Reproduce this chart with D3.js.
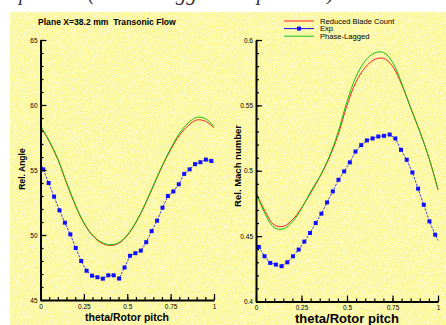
<!DOCTYPE html>
<html>
<head>
<meta charset="utf-8">
<script src="https://cdn.jsdelivr.net/npm/d3@7"></script>
<style>
  body { margin: 0; background: #fff; }
  svg { display: block; font-family: Arial, "Liberation Sans", sans-serif; }
</style>
</head>
<body>
<svg id="chart" width="446" height="325"></svg>
<script>
// curve stations (theta / rotor pitch)
const theta = [0, 0.05, 0.1, 0.15, 0.2, 0.25, 0.3, 0.35, 0.4, 0.45, 0.5,
  0.55, 0.6, 0.65, 0.7, 0.75, 0.8, 0.85, 0.9, 0.95, 1.0];

// relative angle
const angleReduced = [58.35, 57.2, 55.8, 54.0, 52.3, 50.9, 49.95, 49.4, 49.2, 49.35, 49.95,
  50.95, 52.25, 53.75, 55.25, 56.55, 57.65, 58.4, 58.85, 58.75, 58.25];
const anglePhase = [58.4, 57.25, 55.85, 54.05, 52.35, 50.95, 50.0, 49.45, 49.25, 49.4, 50.0,
  51.0, 52.3, 53.8, 55.3, 56.65, 57.8, 58.6, 59.05, 58.95, 58.35];

// relative mach number
const machReduced = [0.4835, 0.469, 0.4585, 0.4575, 0.4625, 0.4715, 0.483, 0.495, 0.509, 0.527, 0.550,
  0.568, 0.579, 0.585, 0.586, 0.580, 0.566, 0.548, 0.530, 0.510, 0.4855];
const machPhase = [0.4835, 0.467, 0.4565, 0.4555, 0.461, 0.471, 0.484, 0.4955, 0.510, 0.529, 0.553,
  0.572, 0.584, 0.590, 0.5905, 0.583, 0.567, 0.548, 0.530, 0.510, 0.4855];

// experiment: 32 probe positions across the pitch
const expTheta = d3.range(32).map(i => (i + 0.5) / 32);
const expAngle = [55.05, 54.0, 52.95, 51.9, 50.95, 50.05, 49.0, 48.0, 47.25, 46.87, 46.75,
  46.64, 46.9, 46.9, 46.65, 47.5, 48.4, 48.6, 48.8, 49.45, 50.3, 51.1, 52.1, 53.0, 53.35,
  53.9, 54.7, 55.05, 55.45, 55.6, 55.8, 55.7];
const expMach = [0.4417, 0.4346, 0.4295, 0.4282, 0.427, 0.430, 0.4346, 0.4397, 0.4458, 0.4524,
  0.460, 0.4672, 0.4758, 0.4842, 0.4931, 0.4995, 0.5064, 0.5147, 0.5196, 0.5232, 0.5247,
  0.5262, 0.5267, 0.5277, 0.5247, 0.516, 0.5084, 0.4987, 0.4863, 0.474, 0.4613, 0.4511];
// values at the pitch edges where the exp line is carried on
const expAngleEnds = [55.55, 55.55];
const expMachEnds = [0.4443, 0.4467];

const xTicks = [0, 0.25, 0.5, 0.75, 1];
const xTickLabels = ["0", "0.25", "0.5", "0.75", "1"];
const angleTicks = [45, 50, 55, 60, 65];
const angleTickLabels = ["45", "50", "55", "60", "65"];
const machTicks = [0.4, 0.45, 0.5, 0.55, 0.6];
const machTickLabels = ["0.4", "0.45", "0.5", "0.55", "0.6"];

const legendItems = ["Reduced Blade Count", "Exp", "Phase-Lagged"];
const colors = { reduced: "#ff2020", exp: "#1010ff", phase: "#10c010" };

const svg = d3.select("#chart");

// paper-like yellow background
const defs = svg.append("defs");
const f = defs.append("filter").attr("id", "paper").attr("x", 0).attr("y", 0).attr("width", 1).attr("height", 1);
f.append("feTurbulence").attr("type", "fractalNoise").attr("baseFrequency", "0.9 2.2").attr("numOctaves", 1).attr("seed", 3).attr("result", "n");
f.append("feColorMatrix").attr("in", "n").attr("type", "matrix")
  .attr("values", "0 0 0 0 1  0 0 0 0 1  0 0 0 0 1  0 0 0 -2.4 1.5");
svg.append("rect").attr("x", 10).attr("y", 12).attr("width", 436).attr("height", 313).attr("fill", "#faf68a");
svg.append("rect").attr("x", 10).attr("y", 12).attr("width", 436).attr("height", 313).attr("fill", "#fff").attr("filter", "url(#paper)").attr("opacity", 0.85);

// caption cut off at the top
svg.append("text").attr("x", 80).attr("y", 0).attr("text-anchor", "end")
  .attr("font-family", "Liberation Serif, serif").attr("font-style", "italic").attr("font-size", 20)
  .attr("fill", "#333").text("Comparison");
svg.append("text").attr("x", 88).attr("y", 0)
  .attr("font-family", "Liberation Serif, serif").attr("font-style", "italic").attr("font-size", 20)
  .attr("textLength", 246).attr("lengthAdjust", "spacingAndGlyphs")
  .attr("fill", "#333").text("(Phase-Lagged computation)");

svg.append("text").attr("x", 38).attr("y", 25).attr("font-size", 8.6).attr("font-weight", "bold")
  .attr("xml:space", "preserve").style("white-space", "pre")
  .text("Plane X=38.2 mm  Transonic Flow");

function panel(opts) {
  const x = d3.scaleLinear().domain([0, 1]).range(opts.xr);
  const y = d3.scaleLinear().domain(opts.yd).range(opts.yr);
  const g = svg.append("g");

  const line = d3.line().x(d => x(d[0])).y(d => y(d[1])).curve(d3.curveCatmullRom.alpha(0.5));
  g.append("path").datum(theta.map((t, i) => [t, opts.reduced[i]]))
    .attr("d", line).attr("fill", "none").attr("stroke", colors.reduced).attr("stroke-width", 1);
  g.append("path").datum(theta.map((t, i) => [t, opts.phase[i]]))
    .attr("d", line).attr("fill", "none").attr("stroke", colors.phase).attr("stroke-width", 1);

  const expPts = [[0, opts.expEnds[0]], ...expTheta.map((t, i) => [t, opts.exp[i]]), [1, opts.expEnds[1]]];
  g.append("path").datum(expPts)
    .attr("d", d3.line().x(d => x(d[0])).y(d => y(d[1])))
    .attr("fill", "none").attr("stroke", colors.exp).attr("stroke-width", 0.8).attr("stroke-dasharray", "2.5,1.2");
  g.selectAll("rect.m").data(expTheta.map((t, i) => [t, opts.exp[i]])).enter().append("rect")
    .attr("x", d => x(d[0]) - 2).attr("y", d => y(d[1]) - 2)
    .attr("width", 4).attr("height", 4).attr("fill", colors.exp);

  // axes, ticks pointing inward
  g.append("g").attr("transform", `translate(${opts.xr[0]},0)`)
    .call(d3.axisLeft(y).tickValues(opts.yTicks).tickFormat((d, i) => opts.yLabels[i])
      .tickSize(-6).tickSizeOuter(0).tickPadding(3));
  g.append("g").attr("transform", `translate(${opts.xr[0]},0)`)
    .call(d3.axisLeft(y).tickValues(opts.yMinor).tickFormat("").tickSize(-3).tickSizeOuter(0))
    .select(".domain").remove();
  g.append("g").attr("transform", `translate(0,${opts.yr[0]})`)
    .call(d3.axisBottom(x).tickValues(xTicks).tickFormat((d, i) => xTickLabels[i])
      .tickSize(-6).tickSizeOuter(0).tickPadding(4));
  g.append("g").attr("transform", `translate(0,${opts.yr[0]})`)
    .call(d3.axisBottom(x).tickValues(d3.range(0, 1.0001, 0.05)).tickFormat("").tickSize(-3).tickSizeOuter(0))
    .select(".domain").remove();
  g.selectAll(".domain").attr("stroke-width", 2);
  g.selectAll(".tick line").attr("stroke-width", 1.2);
  g.selectAll(".tick text").attr("font-size", 6.5).attr("font-family", "Arial, Liberation Sans, sans-serif");

  g.append("text").attr("transform", `translate(${opts.ylx},${opts.yly}) rotate(-90)`)
    .attr("text-anchor", "middle").attr("font-size", opts.ylSize).attr("font-weight", "bold").text(opts.yLabel);
  g.append("text").attr("x", opts.xlx).attr("y", opts.xly).attr("text-anchor", "middle")
    .attr("font-size", opts.xlSize).attr("font-weight", "bold").text("theta/Rotor pitch");
}

panel({
  xr: [40.5, 214], yd: [45, 65], yr: [300, 40],
  reduced: angleReduced, phase: anglePhase, exp: expAngle, expEnds: expAngleEnds,
  yTicks: angleTicks, yLabels: angleTickLabels, yMinor: d3.range(45, 65.01, 1),
  yLabel: "Rel. Angle", ylx: 25, yly: 169, ylSize: 8.5,
  xlx: 127, xly: 321, xlSize: 10.5
});

panel({
  xr: [256, 438], yd: [0.4, 0.6], yr: [301.5, 40],
  reduced: machReduced, phase: machPhase, exp: expMach, expEnds: expMachEnds,
  yTicks: machTicks, yLabels: machTickLabels, yMinor: d3.range(0.4, 0.6001, 0.01),
  yLabel: "Rel. Mach number", ylx: 241, yly: 166, ylSize: 9.5,
  xlx: 347, xly: 323, xlSize: 13
});

// legend
const lg = svg.append("g");
const lgColors = [colors.reduced, colors.exp, colors.phase];
legendItems.forEach((name, i) => {
  const yy = 21 + i * 7.6;
  lg.append("line").attr("x1", 284).attr("x2", 314).attr("y1", yy).attr("y2", yy)
    .attr("stroke", lgColors[i]).attr("stroke-width", 1);
  if (name === "Exp") lg.append("rect").attr("x", 297).attr("y", yy - 2).attr("width", 4).attr("height", 4).attr("fill", colors.exp);
  lg.append("text").attr("x", 320).attr("y", yy + 2.8).attr("font-size", 7.6).text(name);
});
</script>
</body>
</html>
